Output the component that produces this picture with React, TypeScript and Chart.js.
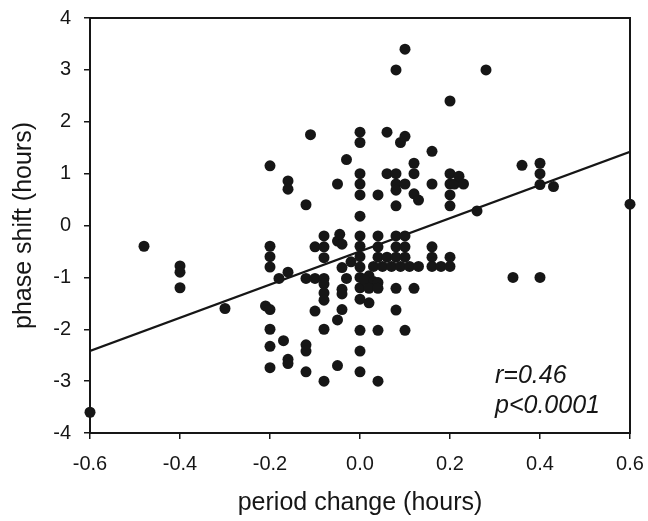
import React, { useEffect, useRef } from "react";
import { Chart, registerables } from "chart.js";

Chart.register(...registerables);

// ---- data ----
const periodChange = [
  // upper group
  -0.2, -0.16, -0.16, -0.12, -0.11, -0.05, -0.03, 0.0, 0.0, 0.0, 0.0, 0.0, 0.0,
  0.04, 0.06, 0.06, 0.08, 0.08, 0.08, 0.08, 0.08, 0.09, 0.1, 0.1, 0.1, 0.12,
  0.12, 0.12, 0.13, 0.16, 0.16, 0.2, 0.2, 0.2, 0.2, 0.2, 0.21, 0.22, 0.23,
  0.26, 0.28, 0.36, 0.4, 0.4, 0.4, 0.43, 0.6,
  // lower left
  -0.6, -0.48, -0.4, -0.4, -0.4, -0.3, -0.2, -0.2, -0.2, -0.21, -0.2, -0.2,
  -0.2, -0.2, -0.18, -0.17, -0.16, -0.16, -0.16, -0.12, -0.12, -0.12, -0.12,
  -0.1, -0.1, -0.1, -0.08, -0.08, -0.08, -0.08, -0.08, -0.08, -0.08, -0.08,
  -0.08, -0.05, -0.045, -0.04, -0.04, -0.04, -0.04, -0.04, -0.05, -0.05,
  -0.03, -0.02,
  // zero column
  0.0, 0.0, 0.0, 0.0, 0.0, 0.0, 0.0, 0.0, 0.0, 0.0,
  // lower right
  0.04, 0.08, 0.1,
  0.04, 0.08, 0.1, 0.16,
  0.04, 0.06, 0.08, 0.1, 0.16, 0.2,
  0.03, 0.05, 0.07, 0.09, 0.11, 0.13, 0.16, 0.18, 0.2,
  0.02, 0.01, 0.03, 0.04,
  0.02, 0.04, 0.08, 0.12,
  0.02, 0.08, 0.04, 0.1, 0.04, 0.34, 0.4,
];

const phaseShift = [
  // upper group
  1.15, 0.86, 0.7, 0.4, 1.75, 0.8, 1.27, 1.8, 1.6, 1.0, 0.8, 0.59, 0.18,
  0.59, 1.8, 1.0, 1.0, 0.8, 0.68, 0.38, 3.0, 1.6, 1.72, 0.8, 3.4, 1.2,
  1.0, 0.61, 0.49, 1.43, 0.8, 2.4, 1.0, 0.8, 0.59, 0.38, 0.8, 0.95, 0.8,
  0.28, 3.0, 1.16, 1.2, 1.0, 0.79, 0.75, 0.41,
  // lower left
  -3.6, -0.4, -0.78, -0.9, -1.2, -1.6, -0.4, -0.6, -0.8, -1.55, -1.62, -2.0,
  -2.33, -2.74, -1.02, -2.22, -0.9, -2.58, -2.66, -1.02, -2.3, -2.42, -2.82,
  -0.41, -1.02, -1.65, -0.2, -0.41, -0.62, -1.02, -1.13, -1.3, -1.44, -2.0,
  -3.0, -0.3, -0.17, -0.36, -0.81, -1.23, -1.32, -1.62, -1.82, -2.7,
  -1.02, -0.7,
  // zero column
  -0.2, -0.4, -0.6, -0.8, -1.0, -1.2, -1.42, -2.02, -2.42, -2.82,
  // lower right
  -0.2, -0.2, -0.2,
  -0.41, -0.41, -0.41, -0.41,
  -0.61, -0.61, -0.61, -0.61, -0.61, -0.61,
  -0.79, -0.79, -0.79, -0.79, -0.79, -0.79, -0.79, -0.79, -0.79,
  -0.97, -1.05, -1.08, -1.1,
  -1.21, -1.21, -1.21, -1.21,
  -1.49, -1.63, -2.02, -2.02, -3.0, -1.0, -1.0,
];

const regressionX = [-0.6, 0.6];
const regressionY = [-2.42, 1.42];

const annotationText = ["r=0.46", "p<0.0001"];
const annotationX = [0.3, 0.3];
const annotationY = [-3.04, -3.62];

const xTitle = "period change (hours)";
const yTitle = "phase shift (hours)";

const INK = "#161616";
const FONT = '"Liberation Sans", Arial, Helvetica, sans-serif';

const framePlugin = {
  id: "frameAndNote",
  beforeDatasetsDraw(chart: any) {
    const { ctx, chartArea } = chart;
    const { left, top, right, bottom } = chartArea;
    ctx.save();
    ctx.strokeStyle = INK;
    ctx.lineWidth = 2;
    ctx.strokeRect(left, top, right - left, bottom - top);
    ctx.restore();
  },
  afterDatasetsDraw(chart: any) {
    const { ctx } = chart;
    const xs = chart.scales.x;
    const ys = chart.scales.y;
    ctx.save();
    ctx.fillStyle = INK;
    ctx.font = `italic 25px ${FONT}`;
    ctx.textAlign = "left";
    ctx.textBaseline = "alphabetic";
    annotationText.forEach((t, i) => {
      ctx.fillText(t, xs.getPixelForValue(annotationX[i]), ys.getPixelForValue(annotationY[i]));
    });
    ctx.restore();
  },
};

export default function App() {
  const ref = useRef<HTMLCanvasElement | null>(null);

  useEffect(() => {
    document.body.style.margin = "0";
    const canvas = ref.current;
    if (!canvas) return;

    const points = periodChange.map((x, i) => ({ x, y: phaseShift[i] }));
    const line = regressionX.map((x, i) => ({ x, y: regressionY[i] }));

    const chart = new Chart(canvas, {
      type: "scatter",
      data: {
        datasets: [
          {
            type: "line",
            data: line,
            borderColor: INK,
            borderWidth: 2.2,
            pointRadius: 0,
            fill: false,
            order: 2,
          } as any,
          {
            type: "scatter",
            data: points,
            backgroundColor: INK,
            borderWidth: 0,
            pointRadius: 5.5,
            pointHoverRadius: 5.5,
            clip: false,
            order: 1,
          } as any,
        ],
      },
      options: {
        responsive: false,
        animation: false,
        events: [],
        layout: { padding: { top: 18, right: 18, left: 0, bottom: 0 } },
        plugins: {
          legend: { display: false },
          tooltip: { enabled: false },
        },
        scales: {
          x: {
            type: "linear",
            min: -0.6,
            max: 0.6,
            afterFit: (s: any) => {
              s.height = 88;
              s.paddingLeft = 0;
              s.paddingRight = 0;
            },
            ticks: {
              stepSize: 0.2,
              color: INK,
              padding: 13,
              font: { size: 20, family: FONT },
              callback: (v: any) => {
                const n = Number(v);
                return Math.abs(n) < 1e-9 ? "0.0" : n.toFixed(1);
              },
            },
            grid: {
              drawOnChartArea: false,
              drawTicks: true,
              tickLength: 6,
              color: INK,
              lineWidth: 1.5,
            },
            border: { display: false },
            title: {
              display: true,
              text: xTitle,
              color: INK,
              font: { size: 25, family: FONT },
              padding: { top: 0, bottom: 3 },
            },
          },
          y: {
            type: "linear",
            min: -4,
            max: 4,
            afterFit: (s: any) => {
              s.width = 90;
              s.paddingTop = 0;
              s.paddingBottom = 0;
            },
            ticks: {
              stepSize: 1,
              color: INK,
              padding: 13,
              font: { size: 20, family: FONT },
              callback: (v: any) => String(Math.round(Number(v))),
            },
            grid: {
              drawOnChartArea: false,
              drawTicks: true,
              tickLength: 6,
              color: INK,
              lineWidth: 1.5,
            },
            border: { display: false },
            title: {
              display: true,
              text: yTitle,
              color: INK,
              font: { size: 25, family: FONT },
              padding: { top: 9, bottom: 0 },
            },
          },
        },
      },
      plugins: [framePlugin],
    });

    return () => {
      chart.destroy();
    };
  }, []);

  return (
    <div style={{ width: 648, height: 521, background: "#fff" }}>
      <canvas ref={ref} width={648} height={521} style={{ display: "block" }} />
    </div>
  );
}
